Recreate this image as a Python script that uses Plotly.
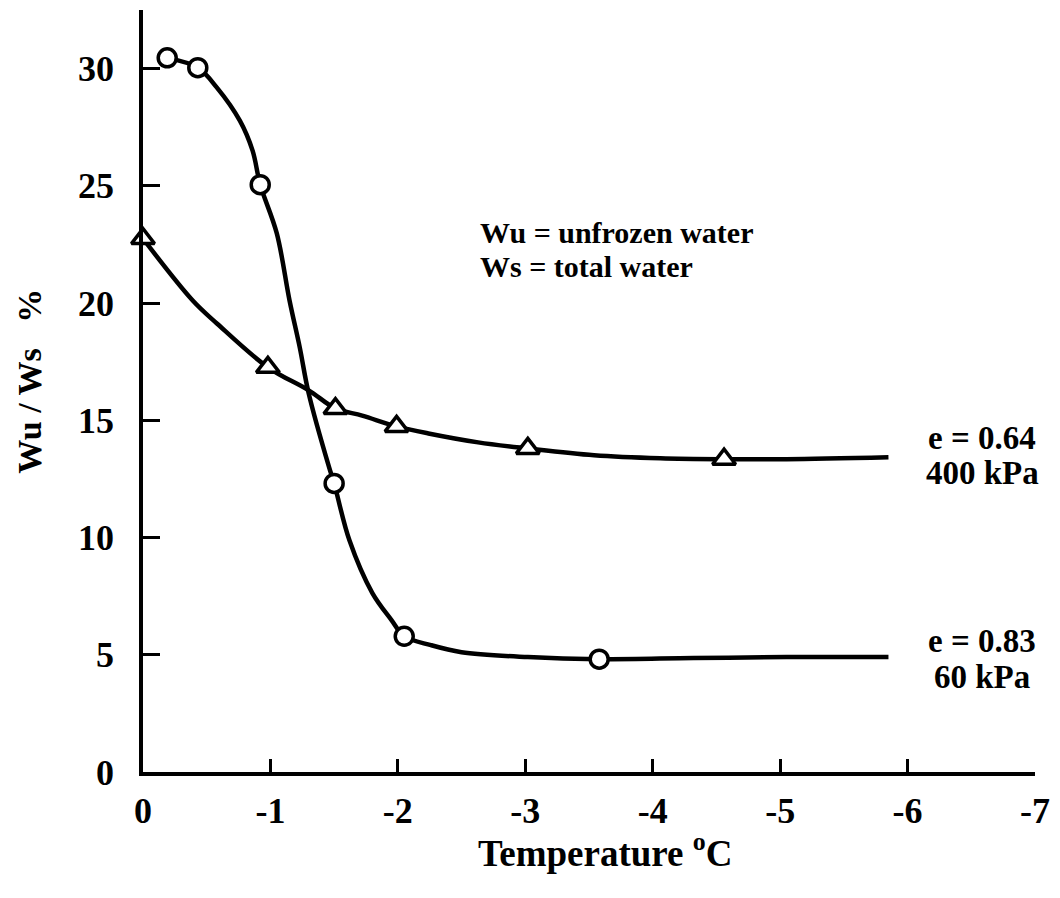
import plotly.graph_objects as go

# Unfrozen water content vs temperature for two consolidation states
# e = 0.83 / 60 kPa  (circles)
circ_temp = [-0.19, -0.43, -0.92, -1.50, -2.05, -3.58]
circ_ratio = [30.46, 30.04, 25.05, 12.31, 5.79, 4.81]

# e = 0.64 / 400 kPa  (triangles)
tri_temp = [0.0, -0.98, -1.51, -1.99, -3.02, -4.56]
tri_ratio = [22.75, 17.26, 15.50, 14.74, 13.80, 13.34]

# Hand-fitted curve through the circles
curve_low_temp = [-0.19, -0.43, -0.58, -0.76, -0.86, -0.92, -1.05, -1.15, -1.23,
                  -1.30, -1.46, -1.50, -1.62, -1.80, -1.95, -2.05, -2.26,
                  -2.50, -3.02, -3.58, -4.32, -5.05, -5.85]
curve_low_ratio = [30.46, 30.04, 29.19, 27.78, 26.50, 25.05, 22.97, 20.11, 18.11,
                   16.15, 13.00, 12.31, 9.88, 7.63, 6.48, 5.79, 5.41,
                   5.11, 4.90, 4.81, 4.86, 4.90, 4.90]

# Hand-fitted curve through the triangles
curve_high_temp = [0.0, -0.39, -0.58, -0.98, -1.30, -1.51, -1.72, -1.99, -2.24,
                   -2.63, -3.02, -3.54, -4.06, -4.56, -5.05, -5.85]
curve_high_ratio = [22.75, 20.11, 19.13, 17.26, 16.28, 15.51, 15.20, 14.74, 14.44,
                    14.06, 13.80, 13.51, 13.38, 13.34, 13.34, 13.42]

x_ticks = [0, -1, -2, -3, -4, -5, -6, -7]
x_tick_text = ["0", "-1", "-2", "-3", "-4", "-5", "-6", "-7"]
y_ticks = [0, 5, 10, 15, 20, 25, 30]
y_tick_text = ["0", "5", "10", "15", "20", "25", "30"]

FONT = "Liberation Serif"
W, H = 1060, 898
L, R, T, B = 143, 20, 10, 126


def px(xp):
    return (xp - L) / (W - L - R)


def py(yp):
    return (H - B - yp) / (H - B - T)


fig = go.Figure()

fig.add_trace(go.Scatter(x=curve_low_temp, y=curve_low_ratio, mode="lines",
                         line=dict(color="black", width=4.5, shape="spline", smoothing=1.0),
                         hoverinfo="skip", showlegend=False))
fig.add_trace(go.Scatter(x=curve_high_temp, y=curve_high_ratio, mode="lines",
                         line=dict(color="black", width=4.5, shape="spline", smoothing=1.0),
                         hoverinfo="skip", showlegend=False))
fig.add_trace(go.Scatter(x=circ_temp, y=circ_ratio, mode="markers",
                         marker=dict(symbol="circle", size=18, color="white",
                                     line=dict(color="black", width=3.5)),
                         cliponaxis=False, showlegend=False))
fig.add_trace(go.Scatter(x=tri_temp, y=tri_ratio, mode="markers",
                         marker=dict(symbol="triangle-up", size=20, color="white",
                                     line=dict(color="black", width=3.5)),
                         cliponaxis=False, showlegend=False))

annotations = [
    dict(text="Wu = unfrozen water", x=px(480), y=py(233), xanchor="left", yanchor="middle",
         font=dict(size=30)),
    dict(text="Ws = total water", x=px(480), y=py(266), xanchor="left", yanchor="middle",
         font=dict(size=30)),
    dict(text="e = 0.64", x=px(987), y=py(438), xanchor="center", yanchor="middle",
         font=dict(size=33)),
    dict(text="400 kPa", x=px(987), y=py(473), xanchor="center", yanchor="middle",
         font=dict(size=33)),
    dict(text="e = 0.83", x=px(987), y=py(641), xanchor="center", yanchor="middle",
         font=dict(size=33)),
    dict(text="60 kPa", x=px(987), y=py(677), xanchor="center", yanchor="middle",
         font=dict(size=33)),
    dict(text="Temperature <sup>o</sup>C", x=px(608), y=py(850), xanchor="center",
         yanchor="middle", font=dict(size=37)),
    dict(text="Wu / Ws\u00a0\u00a0\u00a0%", x=px(28), y=py(381), xanchor="center",
         yanchor="middle", textangle=-90, font=dict(size=34)),
]
for a in annotations:
    a.update(xref="paper", yref="paper", showarrow=False)
    a["font"].update(family=FONT, color="black", weight="bold")

fig.update_layout(
    width=W, height=H,
    margin=dict(l=L, r=R, t=T, b=B),
    paper_bgcolor="white", plot_bgcolor="white",
    annotations=annotations,
    xaxis=dict(range=[0, -7], tickvals=x_ticks, ticktext=x_tick_text,
               showline=True, linecolor="black", linewidth=3.5,
               ticks="inside", ticklen=13, tickwidth=2.5, tickcolor="black",
               showgrid=False, zeroline=False, ticklabelstandoff=4,
               tickfont=dict(family=FONT, size=36, color="black", weight="bold")),
    yaxis=dict(range=[0, 32.5], tickvals=y_ticks, ticktext=y_tick_text,
               showline=True, linecolor="black", linewidth=3.5,
               ticks="inside", ticklen=17, tickwidth=2.5, tickcolor="black",
               showgrid=False, zeroline=False, ticklabelstandoff=18,
               tickfont=dict(family=FONT, size=36, color="black", weight="bold")),
)

fig.write_html("out.html")
